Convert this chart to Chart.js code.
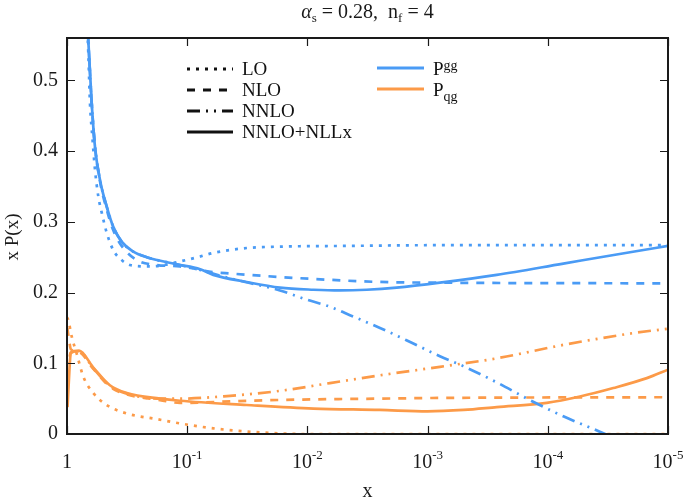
<!DOCTYPE html>
<html>
<head>
<meta charset="utf-8">
<script src="https://cdn.jsdelivr.net/npm/chart.js@4.4.0/dist/chart.umd.min.js"></script>
<style>
  body { margin: 0; background: #fff; }
</style>
</head>
<body>
<canvas id="diagram" width="685" height="503"></canvas>
<script>
// valeurs : x P(x) en fonction de x (échelle log inversée)

var ggLO_x = [0.70, 0.665, 0.644, 0.616, 0.585, 0.549, 0.514, 0.468, 0.412, 0.351, 0.299, 0.217, 0.168, 0.115, 0.078, 0.061, 0.032, 0.0169, 0.0047, 0.00079, 0.00001];
var ggLO_y = [0.62, 0.539, 0.468, 0.421, 0.374, 0.336, 0.313, 0.285, 0.260, 0.246, 0.239, 0.237, 0.238, 0.244, 0.251, 0.256, 0.263, 0.265, 0.266, 0.267, 0.267];

var ggNLO_x = [0.70, 0.665, 0.623, 0.585, 0.531, 0.468, 0.412, 0.351, 0.263, 0.179, 0.115, 0.061, 0.044, 0.0169, 0.00649, 0.00249, 0.00079, 0.00001];
var ggNLO_y = [0.63, 0.557, 0.468, 0.406, 0.357, 0.318, 0.288, 0.266, 0.246, 0.239, 0.237, 0.229, 0.227, 0.222, 0.218, 0.215, 0.214, 0.213];

var ggNNLO_x = [0.70, 0.665, 0.623, 0.585, 0.531, 0.468, 0.412, 0.351, 0.281, 0.217, 0.122, 0.078, 0.044, 0.0218, 0.0169, 0.01014, 0.00649, 0.00415, 0.00249, 0.001315, 0.00079, 0.000505, 0.000266, 0.000141, 0.0000743, 0.0000345, 0.00001];
var ggNNLO_y = [0.63, 0.557, 0.468, 0.406, 0.359, 0.322, 0.293, 0.272, 0.258, 0.250, 0.240, 0.232, 0.220, 0.208, 0.203, 0.190, 0.180, 0.166, 0.150, 0.128, 0.110, 0.096, 0.073, 0.048, 0.025, 0.001, -0.045];

var ggRes_x = [0.70, 0.665, 0.623, 0.585, 0.531, 0.468, 0.412, 0.351, 0.281, 0.217, 0.122, 0.078, 0.0607, 0.032, 0.0169, 0.0089, 0.00536, 0.00321, 0.00181, 0.00079, 0.000266, 0.0000743, 0.0000207, 0.00001];
var ggRes_y = [0.63, 0.557, 0.468, 0.406, 0.359, 0.322, 0.293, 0.272, 0.258, 0.250, 0.240, 0.233, 0.225, 0.215, 0.207, 0.204, 0.203, 0.204, 0.207, 0.214, 0.225, 0.241, 0.257, 0.266];

var qgLO_x = [1, 0.975, 0.914, 0.832, 0.731, 0.604, 0.468, 0.318, 0.179, 0.115, 0.0607, 0.0233, 0.01014, 0.001, 0.00001];
var qgLO_y = [0.165, 0.161, 0.138, 0.114, 0.081, 0.058, 0.041, 0.029, 0.021, 0.015, 0.008, 0.002, 0.0, 0.0, 0.0];

var qgNLO_x = [0.995, 0.955, 0.93, 0.794, 0.604, 0.44, 0.318, 0.168, 0.115, 0.032, 0.0089, 0.0025, 0.00079, 0.00001];
var qgNLO_y = [0.150, 0.130, 0.120, 0.116, 0.092, 0.067, 0.056, 0.048, 0.044, 0.047, 0.049, 0.050, 0.051, 0.052];

var qgNNLO_x = [0.99, 0.955, 0.93, 0.794, 0.604, 0.44, 0.318, 0.168, 0.115, 0.044, 0.0169, 0.00649, 0.00249, 0.00079, 0.000266, 0.0000743, 0.0000207, 0.00001];
var qgNNLO_y = [0.060, 0.105, 0.115, 0.117, 0.093, 0.068, 0.057, 0.050, 0.050, 0.054, 0.061, 0.072, 0.083, 0.095, 0.107, 0.126, 0.142, 0.149];

var qgRes_x = [0.99, 0.955, 0.93, 0.794, 0.604, 0.44, 0.318, 0.168, 0.115, 0.032, 0.0089, 0.0025, 0.001, 0.0005, 0.000266, 0.000102, 0.000054, 0.0000285, 0.000015, 0.00001];
var qgRes_y = [0.038, 0.090, 0.115, 0.118, 0.094, 0.069, 0.058, 0.050, 0.047, 0.041, 0.036, 0.034, 0.032, 0.034, 0.038, 0.044, 0.053, 0.065, 0.079, 0.091];

var xTicks = [1, 0.1, 0.01, 0.001, 0.0001, 0.00001];
var xTickExp = ['', '-1', '-2', '-3', '-4', '-5'];
var yTicks = [0, 0.1, 0.2, 0.3, 0.4, 0.5];

var bleu = '#4a9bf5';
var orange = '#fc9a48';
var police = 'Liberation Serif';

// motifs de traits : LO, NLO, NNLO, NNLO+NLLx
var traits = [[3, 6], [8, 8], [13, 6, 2, 6, 2, 6], []];

function points(xs, ys) {
  return xs.map(function (x, i) { return { x: x, y: ys[i] }; });
}

function serie(xs, ys, couleur, trait) {
  return {
    data: points(xs, ys),
    borderColor: couleur,
    borderWidth: 2.7,
    borderDash: trait,
    borderCapStyle: 'butt',
    pointRadius: 0,
    cubicInterpolationMode: 'monotone',
    clip: 0,
    fill: false
  };
}

var datasets = [
  serie(ggLO_x, ggLO_y, bleu, traits[0]),
  serie(ggNLO_x, ggNLO_y, bleu, traits[1]),
  serie(ggNNLO_x, ggNNLO_y, bleu, traits[2]),
  serie(ggRes_x, ggRes_y, bleu, traits[3]),
  serie(qgLO_x, qgLO_y, orange, traits[0]),
  serie(qgNLO_x, qgNLO_y, orange, traits[1]),
  serie(qgNNLO_x, qgNNLO_y, orange, traits[2]),
  serie(qgRes_x, qgRes_y, orange, traits[3])
];

// texte avec indices / exposants : morceaux [texte, taille, décalage, italique]
function texteRiche(c, morceaux, x, y, align) {
  var total = 0;
  morceaux.forEach(function (m) {
    c.font = (m[3] ? 'italic ' : '') + m[1] + 'px "' + police + '"';
    total += c.measureText(m[0]).width;
  });
  var px = align === 'center' ? x - total / 2 : x;
  c.textAlign = 'left';
  c.textBaseline = 'alphabetic';
  morceaux.forEach(function (m) {
    c.font = (m[3] ? 'italic ' : '') + m[1] + 'px "' + police + '"';
    c.fillText(m[0], px, y + m[2]);
    px += c.measureText(m[0]).width;
  });
}

var cadre = {
  id: 'cadre',
  afterDraw: function (chart) {
    var c = chart.ctx;
    var a = chart.chartArea;
    var sx = chart.scales.x;
    var sy = chart.scales.y;
    c.save();
    c.fillStyle = '#1a1a1a';
    c.strokeStyle = '#1a1a1a';
    c.setLineDash([]);

    // graduations vers l'intérieur
    c.lineWidth = 1.2;
    c.beginPath();
    xTicks.forEach(function (v) {
      var px = Math.round(sx.getPixelForValue(v)) + 0.5;
      c.moveTo(px, a.bottom); c.lineTo(px, a.bottom - 8);
      c.moveTo(px, a.top); c.lineTo(px, a.top + 8);
    });
    yTicks.forEach(function (v) {
      var py = Math.round(sy.getPixelForValue(v)) + 0.5;
      c.moveTo(a.left, py); c.lineTo(a.left + 8, py);
      c.moveTo(a.right, py); c.lineTo(a.right - 8, py);
    });
    c.stroke();

    c.lineWidth = 2;
    c.strokeRect(a.left, a.top, a.right - a.left, a.bottom - a.top);

    // étiquettes de l'axe x
    xTicks.forEach(function (v, i) {
      var px = sx.getPixelForValue(v);
      if (xTickExp[i] === '') {
        texteRiche(c, [['1', 20, 0]], px, 468, 'center');
      } else {
        texteRiche(c, [['10', 20, 0], [xTickExp[i], 13, -9]], px, 468, 'center');
      }
    });

    // titres des axes
    texteRiche(c, [['x', 20, 0]], (a.left + a.right) / 2, 497, 'center');
    c.save();
    c.translate(18, 237);
    c.rotate(-Math.PI / 2);
    texteRiche(c, [['x P(x)', 19, 0]], 0, 0, 'center');
    c.restore();

    // titre
    texteRiche(c, [['\u03b1', 20, 0, true], ['s', 13, 4], [' = 0.28,  n', 20, 0], ['f', 13, 4], [' = 4', 20, 0]],
      (a.left + a.right) / 2, 18, 'center');

    // légende
    var noms = ['LO', 'NLO', 'NNLO', 'NNLO+NLLx'];
    var ly = [69, 90, 111, 132];
    c.lineWidth = 3;
    c.lineCap = 'butt';
    noms.forEach(function (n, i) {
      c.strokeStyle = '#111';
      c.setLineDash(traits[i]);
      c.beginPath();
      c.moveTo(187, ly[i]); c.lineTo(233, ly[i]);
      c.stroke();
      c.fillStyle = '#111';
      texteRiche(c, [[n, 19, 0]], 242, ly[i] + 6, 'left');
    });
    c.setLineDash([]);
    c.strokeStyle = bleu;
    c.beginPath(); c.moveTo(377, 68); c.lineTo(424, 68); c.stroke();
    c.strokeStyle = orange;
    c.beginPath(); c.moveTo(377, 89); c.lineTo(424, 89); c.stroke();
    c.fillStyle = '#111';
    texteRiche(c, [['P', 19, 0], ['gg', 14, -5]], 433, 75, 'left');
    texteRiche(c, [['P', 19, 0], ['qg', 14, 5]], 433, 96, 'left');
    c.restore();
  }
};

const ctx = document.getElementById('diagram').getContext('2d');

var myChart = new Chart(ctx, {
  type: 'line',
  data: { datasets: datasets },
  options: {
    responsive: false,
    animation: false,
    devicePixelRatio: 1,
    layout: { padding: { top: 38, right: 17, left: 0, bottom: 0 } },
    plugins: { legend: { display: false }, tooltip: { enabled: false } },
    scales: {
      x: {
        type: 'logarithmic',
        reverse: true,
        min: 0.00001,
        max: 1,
        grid: { display: false },
        border: { display: false },
        ticks: { display: false },
        afterFit: function (s) { s.height = 69; }
      },
      y: {
        min: 0,
        max: 0.56,
        grid: { display: false, drawTicks: false },
        border: { display: false },
        ticks: {
          stepSize: 0.1,
          includeBounds: false,
          padding: 9,
          color: '#1a1a1a',
          font: { family: police, size: 20 },
          callback: function (v) { return v === 0 ? '0' : v.toFixed(1); }
        },
        afterFit: function (s) { s.width = 67; }
      }
    }
  },
  plugins: [cadre]
});
</script>
</body>
</html>
